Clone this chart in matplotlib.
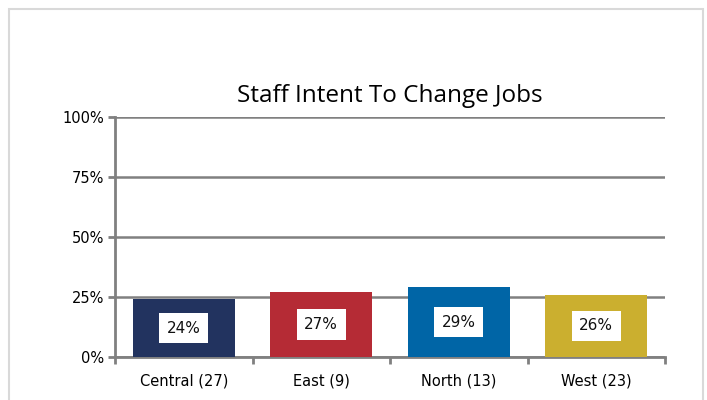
import matplotlib.pyplot as plt
from matplotlib.patches import Rectangle

plt.rcParams['font.family'] = 'DejaVu Sans'

categories = ['Central (27)', 'East (9)', 'North (13)', 'West (23)']
values = [0.24, 0.27, 0.29, 0.26]
labels = ['24%', '27%', '29%', '26%']
colors = ['#22335F', '#B52B35', '#0065A6', '#CBAF2F']
yticks = [0, 0.25, 0.5, 0.75, 1.0]
ytick_labels = ['0%', '25%', '50%', '75%', '100%']

fig = plt.figure(figsize=(7.07, 4.0), dpi=100)
fig.patches.append(Rectangle((9 / 707, -0.1), 694 / 707, 1.1 - 9 / 400,
                             transform=fig.transFigure, fill=False,
                             edgecolor='#D9D9D9', linewidth=1.5))
ax = fig.add_axes([115 / 707, 43 / 400, 550 / 707, 240 / 400])

x = range(len(categories))
ax.bar(x, values, width=0.74, color=colors, zorder=3)
for i, v in enumerate(values):
    ax.text(i, v / 2, labels[i], ha='center', va='center', fontsize=11,
            color='#111111', zorder=4,
            bbox=dict(boxstyle='square,pad=0.5', facecolor='white', edgecolor='none'))

ax.set_xlim(-0.5, 3.5)
ax.set_ylim(0, 1.0)
ax.set_yticks(yticks)
ax.set_yticklabels(ytick_labels, fontsize=10.5)
ax.set_xticks(list(x))
ax.set_xticklabels(categories, fontsize=10.5)
ax.tick_params(axis='x', length=0, pad=12)
ax.set_xticks([-0.5, 0.5, 1.5, 2.5, 3.5], minor=True)
ax.tick_params(axis='x', which='minor', length=5, width=2, color='#808080')
ax.tick_params(axis='y', length=5, width=2, color='#808080', pad=3)
ax.grid(axis='y', color='#808080', linewidth=1.8, zorder=0)
for s in ['top', 'right']:
    ax.spines[s].set_visible(False)
for s in ['left', 'bottom']:
    ax.spines[s].set_color('#808080')
    ax.spines[s].set_linewidth(2)
ax.set_title('Staff Intent To Change Jobs', fontsize=17.5, family='Open Sans', pad=11)

fig.savefig('out.png', dpi=100)
